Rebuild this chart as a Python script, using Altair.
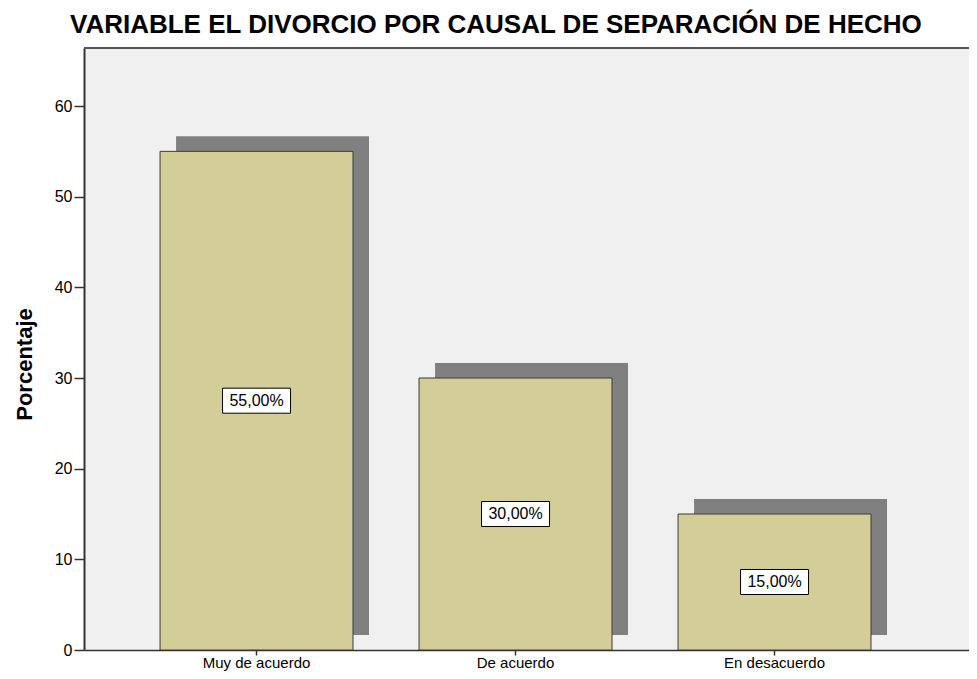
import altair as alt
import pandas as pd

categories = ["Muy de acuerdo", "De acuerdo", "En desacuerdo"]
values = [55.0, 30.0, 15.0]
labels = ["55,00%", "30,00%", "15,00%"]
y_ticks = [0, 10, 20, 30, 40, 50, 60]

df = pd.DataFrame({"cat": categories, "value": values, "label": labels})

FONT = "Liberation Sans"
YMAX = 66.4

x_enc = alt.X(
    "cat:N",
    sort=categories,
    scale=alt.Scale(paddingInner=0.255, paddingOuter=0.336, align=0.437),
    axis=alt.Axis(
        title=None, labelAngle=0, labelFontSize=15, labelFont=FONT, labelColor="#000",
        tickSize=5, tickColor="#333", tickWidth=1.5, domainColor="#333", domainWidth=1.5,
        labelPadding=0,
    ),
)
y_scale = alt.Scale(domain=[0, YMAX], nice=False)

base = alt.Chart(df)

shadow = base.mark_bar(color="#808080", xOffset=16, yOffset=-15).encode(
    x=x_enc,
    y=alt.Y("value:Q", scale=y_scale),
)

bars = base.mark_bar(color="#D3CE97", stroke="#3a3a3a", strokeWidth=1).encode(
    x=x_enc,
    y=alt.Y(
        "value:Q",
        scale=y_scale,
        axis=alt.Axis(
            values=y_ticks, grid=False, title="Porcentaje", titleFont=FONT,
            titleFontSize=22, titleFontWeight="bold", titleColor="#000",
            titleX=-60, titleY=316, titleBaseline="middle", titleAlign="center", titleAngle=-90,
            labelFontSize=16, labelFont=FONT, labelColor="#000", labelPadding=2,
            tickSize=10, tickColor="#333", tickWidth=1.5, domainColor="#333", domainWidth=2,
        ),
    ),
)

boxes = base.transform_calculate(half="datum.value / 2").mark_point(
    shape="M-1,-0.368H1V0.368H-1Z", size=4624, filled=True, fill="white",
    stroke="black", strokeWidth=1, opacity=1,
).encode(x=x_enc, y=alt.Y("half:Q", scale=y_scale))

texts = base.transform_calculate(half="datum.value / 2").mark_text(
    font=FONT, fontSize=16, color="black", baseline="middle", align="center",
).encode(x=x_enc, y=alt.Y("half:Q", scale=y_scale), text="label:N")

top_border = alt.Chart(pd.DataFrame({"t": [YMAX]})).mark_rule(
    color="#555", strokeWidth=2
).encode(y=alt.Y("t:Q", scale=y_scale))

chart = (
    alt.layer(shadow, bars, boxes, texts, top_border)
    .properties(
        width=885,
        height=602,
        title=alt.TitleParams(
            "VARIABLE EL DIVORCIO POR CAUSAL DE SEPARACIÓN DE HECHO",
            font=FONT, fontSize=26, fontWeight="bold", color="#000",
            anchor="start", frame="group", dx=-14, dy=24, offset=12, baseline="alphabetic",
        ),
        autosize=alt.AutoSizeParams(type="none"),
        padding={"left": 76, "top": 40, "right": 0, "bottom": 21},
        background="white",
    )
    .configure_view(fill="#F0F0F0", stroke=None)
)

chart.save("out.html", embed_options={"renderer": "svg", "actions": False})
